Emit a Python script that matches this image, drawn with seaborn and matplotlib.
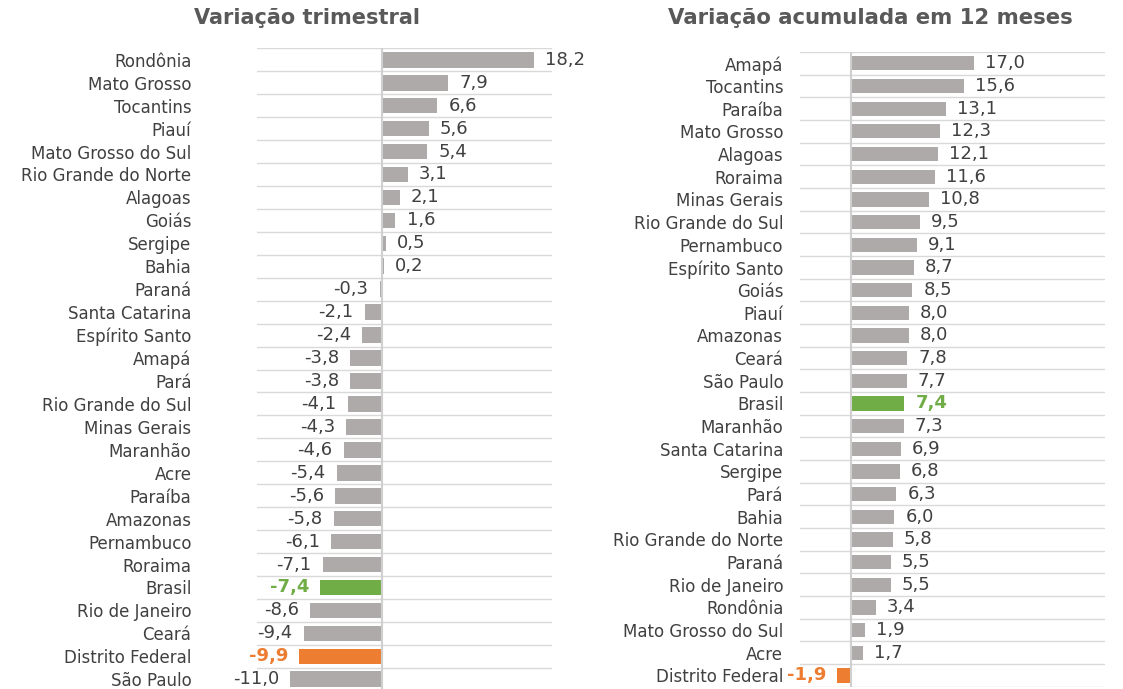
import matplotlib
matplotlib.use("Agg")
import matplotlib.pyplot as plt
import seaborn as sns
import numpy as np
import pandas as pd

# data
tri_estados = ['Rondônia', 'Mato Grosso', 'Tocantins', 'Piauí', 'Mato Grosso do Sul',
               'Rio Grande do Norte', 'Alagoas', 'Goiás', 'Sergipe', 'Bahia', 'Paraná',
               'Santa Catarina', 'Espírito Santo', 'Amapá', 'Pará', 'Rio Grande do Sul',
               'Minas Gerais', 'Maranhão', 'Acre', 'Paraíba', 'Amazonas', 'Pernambuco',
               'Roraima', 'Brasil', 'Rio de Janeiro', 'Ceará', 'Distrito Federal', 'São Paulo']
tri_valores = [18.2, 7.9, 6.6, 5.6, 5.4, 3.1, 2.1, 1.6, 0.5, 0.2, -0.3,
               -2.1, -2.4, -3.8, -3.8, -4.1, -4.3, -4.6, -5.4, -5.6, -5.8, -6.1,
               -7.1, -7.4, -8.6, -9.4, -9.9, -11.0]

acu_estados = ['Amapá', 'Tocantins', 'Paraíba', 'Mato Grosso', 'Alagoas', 'Roraima',
               'Minas Gerais', 'Rio Grande do Sul', 'Pernambuco', 'Espírito Santo', 'Goiás',
               'Piauí', 'Amazonas', 'Ceará', 'São Paulo', 'Brasil', 'Maranhão',
               'Santa Catarina', 'Sergipe', 'Pará', 'Bahia', 'Rio Grande do Norte', 'Paraná',
               'Rio de Janeiro', 'Rondônia', 'Mato Grosso do Sul', 'Acre', 'Distrito Federal']
acu_valores = [17.0, 15.6, 13.1, 12.3, 12.1, 11.6, 10.8, 9.5, 9.1, 8.7, 8.5,
               8.0, 8.0, 7.8, 7.7, 7.4, 7.3, 6.9, 6.8, 6.3, 6.0, 5.8, 5.5,
               5.5, 3.4, 1.9, 1.7, -1.9]

CINZA = '#aeaaaa'
VERDE = '#70ad47'
LARANJA = '#ed7d31'
TEXTO = '#404040'
destaque = {'Brasil': VERDE, 'Distrito Federal': LARANJA}

plt.rcParams['font.family'] = ['DejaVu Sans']

fig = plt.figure(figsize=(11.23, 6.89), dpi=100)
fig.patch.set_facecolor('white')


def painel(ax, estados, valores, xlim, altura, pad, titulo, tx, tam_titulo):
    df = pd.DataFrame({'estado': estados, 'valor': valores})
    cores = {e: destaque.get(e, CINZA) for e in estados}
    sns.barplot(data=df, x='valor', y='estado', hue='estado', palette=cores,
                legend=False, orient='h', width=altura, saturation=1, ax=ax)
    n = len(estados)
    ax.set_xlim(*xlim)
    ax.set_ylim(n - 0.5, -0.5)
    ax.set_xlabel('')
    ax.set_ylabel('')
    ax.set_xticks([])
    ax.set_yticks(np.arange(-0.5, n), minor=True)
    ax.grid(axis='y', which='minor', color='#d9d9d9', lw=1.0)
    ax.grid(axis='y', which='major', visible=False)
    ax.tick_params(axis='y', which='both', length=0, pad=pad, labelsize=12,
                   labelcolor=TEXTO)
    for s in ax.spines.values():
        s.set_visible(False)
    ax.axvline(0, color='#cfcfcf', lw=1.5, zorder=3)
    ax.set_axisbelow(True)
    for i, (e, v) in enumerate(zip(estados, valores)):
        txt = f'{v:.1f}'.replace('.', ',')
        cor = destaque.get(e, TEXTO)
        peso = 'bold' if e in destaque else 'normal'
        if v >= 0:
            ax.annotate(txt, (v, i), xytext=(8, 0), textcoords='offset points',
                        ha='left', va='center', fontsize=13, color=cor,
                        fontweight=peso, annotation_clip=False)
        else:
            ax.annotate(txt, (v, i), xytext=(-8, 0), textcoords='offset points',
                        ha='right', va='center', fontsize=13, color=cor,
                        fontweight=peso, annotation_clip=False)
    fig.text(tx, 1 - 18.5 / 689, titulo, ha='center', va='center', fontsize=tam_titulo,
             fontweight='bold', color='#595959')


ax1 = fig.add_axes([0.2286, -0.0025, 0.2627, 0.9324])
painel(ax1, tri_estados, tri_valores, (-15.0, 20.3), 0.68, 47, 'Variação trimestral',
       307 / 1123, 15)

ax2 = fig.add_axes([0.7124, 0.0033, 0.2716, 0.9212])
painel(ax2, acu_estados, acu_valores, (-7.06, 35.2), 0.63, 12, 'Variação acumulada em 12 meses',
       870 / 1123, 15.3)

fig.savefig('out.png', dpi=100, facecolor='white')
